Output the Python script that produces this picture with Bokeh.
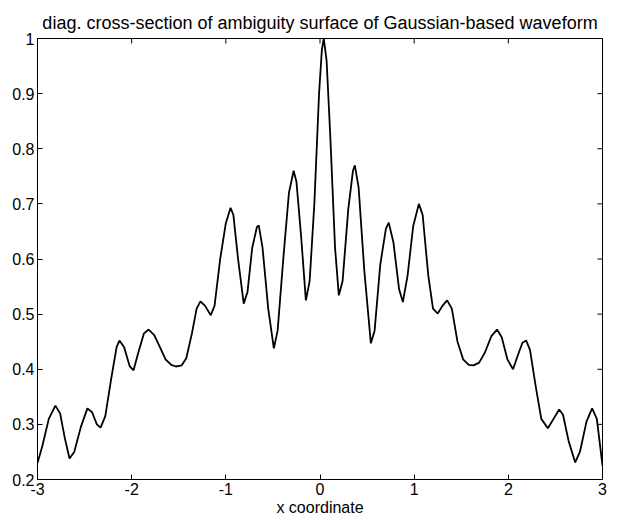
import math
from bokeh.plotting import figure
from bokeh.models import LinearAxis, Range1d, FixedTicker, Title
from bokeh.embed import file_html
from bokeh.resources import INLINE

x_vals = [-3.00, -2.95, -2.88, -2.81, -2.76, -2.71, -2.66, -2.61, -2.54, -2.47,
          -2.42, -2.37, -2.33, -2.28, -2.22, -2.16, -2.13, -2.08, -2.02, -1.98,
          -1.93, -1.87, -1.82, -1.76, -1.70, -1.64, -1.58, -1.53, -1.47, -1.42,
          -1.36, -1.31, -1.27, -1.22, -1.16, -1.12, -1.06, -1.00, -0.95, -0.92,
          -0.87, -0.81, -0.77, -0.72, -0.67, -0.65, -0.61, -0.55, -0.49, -0.45,
          -0.39, -0.33, -0.28, -0.25, -0.20, -0.15, -0.11, -0.06, -0.01, 0.02,
          0.04, 0.07, 0.11, 0.16, 0.20, 0.24, 0.30, 0.35, 0.37, 0.41,
          0.47, 0.54, 0.58, 0.64, 0.70, 0.73, 0.78, 0.84, 0.88, 0.93,
          0.99, 1.05, 1.09, 1.15, 1.20, 1.25, 1.30, 1.35, 1.40, 1.46,
          1.52, 1.58, 1.63, 1.69, 1.75, 1.82, 1.88, 1.93, 1.99, 2.05,
          2.10, 2.15, 2.19, 2.23, 2.29, 2.35, 2.42, 2.48, 2.54, 2.58,
          2.64, 2.71, 2.76, 2.83, 2.89, 2.94, 3.00]
y_vals = [0.230, 0.260, 0.310, 0.334, 0.320, 0.275, 0.238, 0.250, 0.295, 0.329,
          0.322, 0.300, 0.294, 0.315, 0.380, 0.440, 0.452, 0.440, 0.405, 0.398,
          0.430, 0.465, 0.472, 0.462, 0.440, 0.418, 0.408, 0.405, 0.407, 0.420,
          0.465, 0.510, 0.523, 0.515, 0.498, 0.515, 0.600, 0.665, 0.693, 0.680,
          0.600, 0.519, 0.540, 0.620, 0.658, 0.661, 0.620, 0.510, 0.438, 0.470,
          0.600, 0.720, 0.760, 0.740, 0.640, 0.525, 0.560, 0.700, 0.900, 0.980,
          1.000, 0.960, 0.820, 0.620, 0.534, 0.560, 0.690, 0.760, 0.770, 0.730,
          0.580, 0.447, 0.470, 0.590, 0.655, 0.666, 0.630, 0.545, 0.522, 0.570,
          0.660, 0.700, 0.680, 0.570, 0.510, 0.501, 0.515, 0.525, 0.510, 0.450,
          0.418, 0.408, 0.407, 0.412, 0.430, 0.460, 0.472, 0.458, 0.418, 0.400,
          0.425, 0.448, 0.452, 0.435, 0.370, 0.310, 0.293, 0.310, 0.327, 0.318,
          0.270, 0.231, 0.250, 0.305, 0.329, 0.310, 0.225]

x_ticks = [-3, -2, -1, 0, 1, 2, 3]
y_ticks = [0.2, 0.3, 0.4, 0.5, 0.6, 0.7, 0.8, 0.9, 1.0]
y_labels = {0.2: "0.2", 0.3: "0.3", 0.4: "0.4", 0.5: "0.5", 0.6: "0.6",
            0.7: "0.7", 0.8: "0.8", 0.9: "0.9", 1.0: "1"}
x_labels = {-3: "-3", -2: "-2", -1: "-1", 0: "0", 1: "1", 2: "2", 3: "3"}

title_text = "diag. cross-section of ambiguity surface of Gaussian-based waveform"
xlabel_text = "x coordinate"

FONT = "Liberation Sans"
X_MIN, X_MAX = -3, 3
Y_MIN, Y_MAX = 0.2, 1.0

p = figure(width=618, height=521, output_backend="svg", toolbar_location=None,
           x_range=Range1d(X_MIN, X_MAX), y_range=Range1d(Y_MIN, Y_MAX),
           x_axis_location=None, y_axis_location=None,
           min_border_left=37, min_border_right=16, min_border_top=38,
           min_border_bottom=42)
p.background_fill_color = "white"
p.border_fill_color = "white"
p.outline_line_color = "black"
p.outline_line_width = 1
p.xgrid.visible = False
p.ygrid.visible = False

def style_axis(ax):
    ax.axis_line_color = "black"
    ax.major_tick_line_color = "black"
    ax.major_tick_in = 5
    ax.major_tick_out = 0
    ax.minor_tick_line_color = None
    ax.major_label_text_font = FONT
    ax.major_label_text_font_size = "16px"
    ax.major_label_text_color = "black"

xb = LinearAxis(ticker=FixedTicker(ticks=x_ticks), major_label_overrides=x_labels)
style_axis(xb)
xb.major_label_standoff = 3
xb.axis_label = xlabel_text
xb.axis_label_text_font = FONT
xb.axis_label_text_font_size = "16px"
xb.axis_label_text_font_style = "normal"
xb.axis_label_text_color = "black"
xb.axis_label_standoff = 1
p.add_layout(xb, "below")

yl = LinearAxis(ticker=FixedTicker(ticks=y_ticks), major_label_overrides=y_labels)
style_axis(yl)
yl.major_label_standoff = 3
p.add_layout(yl, "left")

# inward ticks on the top and right sides of the box
p.ray(x=x_ticks, y=[Y_MAX] * len(x_ticks), length=5, length_units="screen",
      angle=-math.pi / 2, line_color="black", line_width=1)
p.ray(x=[X_MAX] * len(y_ticks), y=y_ticks, length=5, length_units="screen",
      angle=math.pi, line_color="black", line_width=1)

t = Title(text=title_text, align="center", text_font=FONT, text_font_size="18px",
          text_font_style="normal", text_color="black", standoff=12, offset=15)
p.add_layout(t, "above")

p.line(x_vals, y_vals, line_color="black", line_width=1.8)

open("out.html", "w").write(file_html(p, INLINE))
